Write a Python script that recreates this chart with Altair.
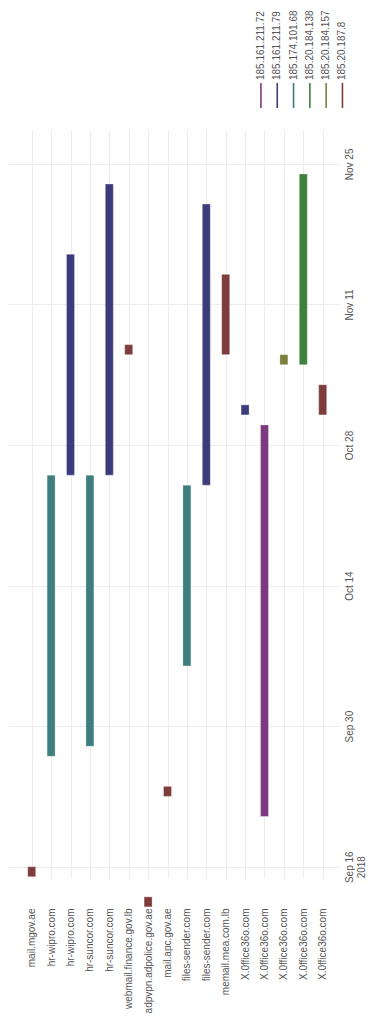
import altair as alt
import pandas as pd

# ---- data ----
domains = ["mail.mgov.ae", "hr-wipro.com", "hr-wipro.com", "hr-suncor.com", "hr-suncor.com",
           "webmail.finance.gov.lb", "adpvpn.adpolice.gov.ae", "mail.apc.gov.ae",
           "files-sender.com", "files-sender.com", "memail.mea.com.lb",
           "X.0ffice36o.com", "X.0ffice36o.com", "X.0ffice36o.com", "X.0ffice36o.com",
           "X.0ffice36o.com"]
starts = ["2018-09-15", "2018-09-27", "2018-10-25", "2018-09-28", "2018-10-25",
          "2018-11-06", "2018-09-12", "2018-09-23", "2018-10-06", "2018-10-24",
          "2018-11-06", "2018-10-31", "2018-09-21", "2018-11-05", "2018-11-05",
          "2018-10-31"]
ends = ["2018-09-16", "2018-10-25", "2018-11-16", "2018-10-25", "2018-11-23",
        "2018-11-07", "2018-09-13", "2018-09-24", "2018-10-24", "2018-11-21",
        "2018-11-14", "2018-11-01", "2018-10-30", "2018-11-06", "2018-11-24",
        "2018-11-03"]
ips = ["185.20.187.8", "185.174.101.68", "185.161.211.79", "185.174.101.68", "185.161.211.79",
       "185.20.187.8", "185.20.187.8", "185.20.187.8", "185.174.101.68", "185.161.211.79",
       "185.20.187.8", "185.161.211.79", "185.161.211.72", "185.20.184.157", "185.20.184.138",
       "185.20.187.8"]

legend_ips = ["185.161.211.72", "185.161.211.79", "185.174.101.68",
              "185.20.184.138", "185.20.184.157", "185.20.187.8"]
legend_colors = ["#7e3a7e", "#3c3c7c", "#3e7e7e", "#3e803e", "#7e7e3e", "#7e3c3c"]

tick_dates = ["2018-09-16", "2018-09-30", "2018-10-14", "2018-10-28", "2018-11-11", "2018-11-25"]
time_range = ["2018-09-14 21:00", "2018-11-28 09:00"]

def ms(s):
    return int(pd.Timestamp(s, tz="UTC").value // 10**6)

df = pd.DataFrame({"idx": list(range(len(domains))), "domain": domains,
                   "start": starts, "end": ends, "ip": ips})
leg = pd.DataFrame({"i": list(range(len(legend_ips))), "ip": legend_ips})

FONT = "Liberation Sans"
GRAY = "#555555"
GRID = "#ececec"
W = 332

names_js = "[" + ",".join("'" + d + "'" for d in domains) + "]"
color_scale = alt.Scale(domain=legend_ips, range=legend_colors)

bars = alt.Chart(df).mark_bar(size=8, stroke="#ffffff", strokeWidth=0.6, strokeOpacity=0.5).encode(
    x=alt.X("idx:Q",
            scale=alt.Scale(domain=[-0.965, 15.635], nice=False, zero=False),
            axis=alt.Axis(values=list(range(16)), labelExpr=names_js + "[datum.value]",
                          labelAngle=270, labelAlign="right", labelBaseline="middle",
                          labelPadding=30, tickSize=0, domain=False, grid=True,
                          gridColor=GRID, labelColor=GRAY, labelFont=FONT,
                          labelFontSize=10, title=None, labelLimit=200)),
    y=alt.Y("start:T",
            scale=alt.Scale(type="utc", domain=[ms(t) for t in time_range], nice=False),
            axis=alt.Axis(orient="right", values=[ms(t) for t in tick_dates],
                          labelExpr="utcFormat(datum.value, '%b %d') == 'Sep 16' ? "
                                    "[utcFormat(datum.value, '%b %d'), '2018'] : "
                                    "utcFormat(datum.value, '%b %d')",
                          labelAngle=270, labelAlign="center", labelBaseline="top",
                          labelPadding=4, tickSize=0, domain=False, grid=True,
                          gridColor=GRID, labelColor=GRAY, labelFont=FONT,
                          labelFontSize=10, title=None)),
    y2="end:T",
    color=alt.Color("ip:N", scale=color_scale, legend=None),
).properties(width=W, height=748)

leg_x = alt.X("i:Q", scale=alt.Scale(domain=[-15.52, 4.85], nice=False, zero=False), axis=None)
leg_text = alt.Chart(leg).mark_text(angle=270, align="left", baseline="middle",
                                    font=FONT, fontSize=10, color=GRAY).encode(
    x=leg_x, y=alt.value(72), text="ip:N")
leg_rule = alt.Chart(leg).mark_rule(strokeWidth=1.6).encode(
    x=leg_x, y=alt.value(75), y2=alt.value(100),
    color=alt.Color("ip:N", scale=color_scale, legend=None))
legend_panel = alt.layer(leg_rule, leg_text).properties(width=W, height=112)

chart = alt.vconcat(legend_panel, bars, spacing=10).properties(
    padding=0, background="white"
).configure_view(stroke=None)

chart.save("out.html", embed_options={"renderer": "svg", "actions": False})
